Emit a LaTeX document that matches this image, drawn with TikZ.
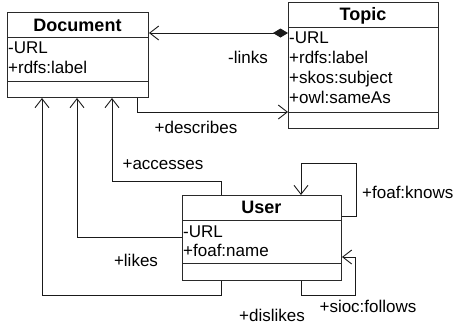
\documentclass[tikz,border=0pt]{standalone}
\usepackage{fontspec}
\setmainfont{Liberation Sans}
\usetikzlibrary{arrows.meta,calc}
\definecolor{ln}{HTML}{1A1A1A}
\definecolor{bx}{HTML}{2A2A2A}
\tikzset{
  umlbox/.style={draw=bx, line width=1pt, rectangle, inner sep=0pt, anchor=north west},
  sepline/.style={draw=bx, line width=1pt},
  conn/.style={draw=ln, line width=1pt},
  openarr/.style={-{Straight Barb[length=9pt,width=14pt,line width=0.9pt]}},
  comp/.style={{Diamond[length=15pt,width=9pt,fill=ln]}-{Straight Barb[length=9pt,width=14pt,line width=0.9pt]}},
  ttl/.style={font=\fontsize{18}{20}\selectfont\bfseries, anchor=base, inner sep=0pt},
  attr/.style={font=\fontsize{17}{20}\selectfont, anchor=base west, inner sep=0pt},
  lbl/.style={font=\fontsize{17}{20}\selectfont, inner sep=0pt}
}
\begin{document}
\begin{tikzpicture}[x=1pt,y=-1pt]
\useasboundingbox (0,0) rectangle (459,325);
% boxes
\node[umlbox, minimum width=141pt, minimum height=85pt] (doc) at (7,12) {};
\node[umlbox, minimum width=150pt, minimum height=126pt] (topic) at (288,2) {};
\node[umlbox, minimum width=159pt, minimum height=85pt] (user) at (182,195) {};
% separators
\draw[sepline] (7,37) -- (148,37) (7,81) -- (148,81);
\draw[sepline] (288,27) -- (438,27) (288,112) -- (438,112);
\draw[sepline] (182,220) -- (341,220) (182,263) -- (341,263);
% texts
\node[ttl] (doct) at (77.5,31) {Document};
\node[attr] (doca1) at (8,53.5) {-URL};
\node[attr] (doca2) at (8,73.5) {+rdfs:label};
\node[ttl] (topt) at (363,20.5) {Topic};
\node[attr] (topa1) at (289,43.5) {-URL};
\node[attr] (topa2) at (289,63.5) {+rdfs:label};
\node[attr] (topa3) at (289,83.5) {+skos:subject};
\node[attr] (topa4) at (289,103.5) {+owl:sameAs};
\node[ttl] (usert) at (261.5,213.5) {User};
\node[attr] (usera1) at (183,237) {-URL};
\node[attr] (usera2) at (183,256.5) {+foaf:name};
% connectors
\draw[conn, comp] ($(topic.north west)+(0,31)$) -- ($(doc.north east)+(0,21)$);
\draw[conn, openarr] ($(doc.south west)+(130,0)$) |- ($(topic.north west)+(0,110)$);
\draw[conn, openarr] ($(user.north west)+(39,0)$) -- ++(0,-14) -| ($(doc.south west)+(105,0)$);
\draw[conn, openarr] ($(user.north west)+(0,42)$) -| ($(doc.south west)+(70,0)$);
\draw[conn, openarr] ($(user.south west)+(39,0)$) -- ++(0,14) -| ($(doc.south west)+(35,0)$);
\draw[conn, openarr] ($(user.north east)+(0,21)$) -- ++(14,0) -- ++(0,-53) -| ($(user.north west)+(119,0)$);
\draw[conn, openarr] ($(user.south west)+(119,0)$) -- ++(0,14) -- ++(54,0) |- ($(user.north east)+(0,62)$);
% labels
\node[lbl] (llinks) at (248,57) {-links};
\node[lbl] (ldesc) at (196,127) {+describes};
\node[lbl] (lacc) at (163,165) {+accesses};
\node[lbl] (llikes) at (136,260) {+likes};
\node[lbl] (ldis) at (272,315) {+dislikes};
\node[lbl] (lfol) at (368,306) {+sioc:follows};
\node[lbl, anchor=west] (lknows) at (362,192) {+foaf:knows};
\end{tikzpicture}
\end{document}
